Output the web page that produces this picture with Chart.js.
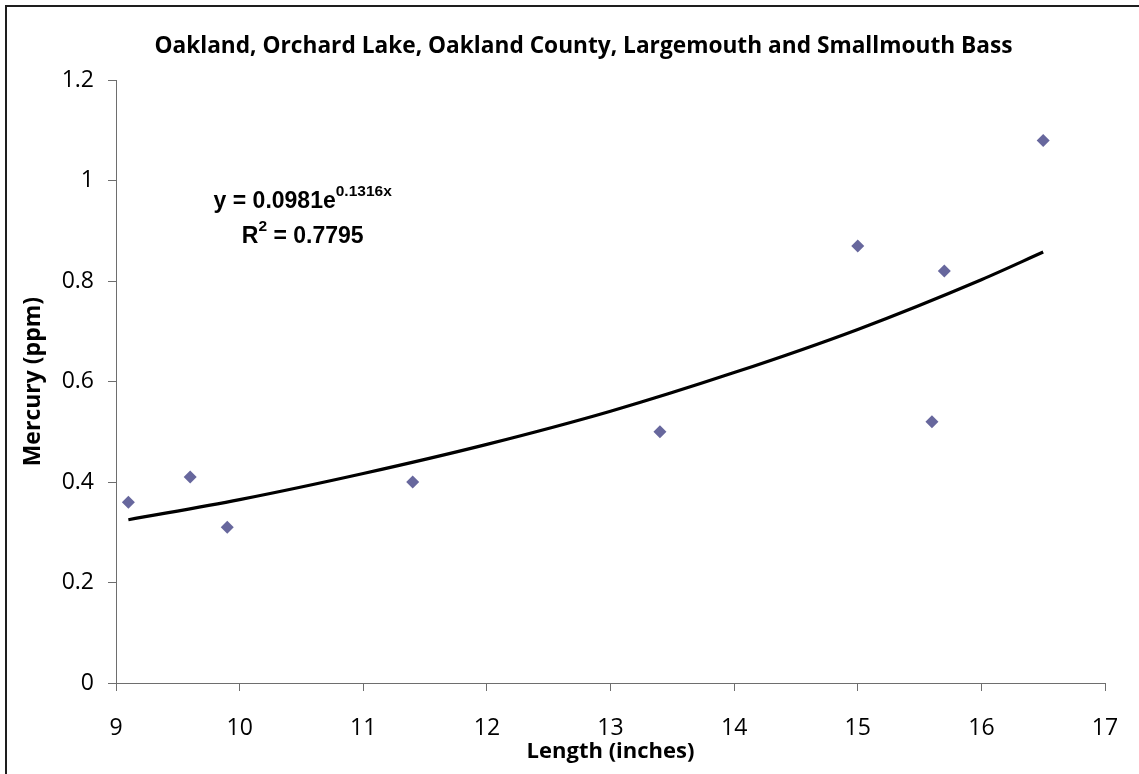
<!DOCTYPE html>
<html lang="en">
<head>
    <meta charset="UTF-8">
    <title>Orchard Lake Mercury vs Length</title>
    <script src="https://cdn.jsdelivr.net/npm/chart.js"></script>
    <style>
        body {
            margin: 0;
            background: #fff;
        }
        #chart-container {
            width: 1139px;
            height: 774px;
        }
    </style>
</head>
<body>
    <div id="chart-container">
        <canvas id="fishChart"></canvas>
    </div>

    <script>
    // Fish samples: length (inches) and mercury (ppm)
    const lengths = [9.1, 9.6, 9.9, 11.4, 13.4, 15.0, 15.6, 15.7, 16.5];
    const mercury = [0.36, 0.41, 0.31, 0.40, 0.50, 0.87, 0.52, 0.82, 1.08];

    // Exponential trendline
    const trendX = [9.1, 10, 11, 12, 13, 14, 15, 16, 16.5];
    const trendY = [0.325, 0.365, 0.417, 0.475, 0.541, 0.618, 0.704, 0.803, 0.858];

    const xTicks = [9, 10, 11, 12, 13, 14, 15, 16, 17];
    const yTicks = [0, 0.2, 0.4, 0.6, 0.8, 1, 1.2];

    const eqText = { base: 'y = 0.0981e', sup: '0.1316x' };
    const r2Text = { base: 'R', sup: '2', rest: ' = 0.7795' };
    const eqAnchor = { x: 10.51, y: 0.945 }; // in data units

    // the original chart is cropped on the right, so its title sits a bit right of centre
    const frame = {
        id: 'frame',
        afterLayout(chart) {
            const t = chart.titleBlock;
            t.left = 5;
            t.right = chart.width + 23;
            t.width = t.right - t.left;
        },
        afterDraw(chart) {
            const ctx = chart.ctx;
            ctx.save();
            ctx.strokeStyle = '#1e1e1e';
            ctx.lineWidth = 2;
            ctx.beginPath();
            ctx.moveTo(6, chart.height + 5);
            ctx.lineTo(6, 6);
            ctx.lineTo(chart.width + 5, 6);
            ctx.stroke();
            ctx.restore();
        }
    };

    const equation = {
        id: 'equation',
        afterDatasetsDraw(chart) {
            const ctx = chart.ctx;
            const xs = chart.scales.x, ys = chart.scales.y;
            const cx = xs.getPixelForValue(eqAnchor.x);
            const by = ys.getPixelForValue(eqAnchor.y);
            const big = 'bold 23px "Liberation Sans", Arial, sans-serif';
            const small = 'bold 15.5px "Liberation Sans", Arial, sans-serif';
            ctx.save();
            ctx.fillStyle = '#000';
            ctx.textBaseline = 'alphabetic';
            ctx.textAlign = 'left';

            ctx.font = big;
            const w1 = ctx.measureText(eqText.base).width;
            ctx.font = small;
            const w2 = ctx.measureText(eqText.sup).width;
            let x = cx - (w1 + w2) / 2;
            ctx.font = big;
            ctx.fillText(eqText.base, x, by);
            ctx.font = small;
            ctx.fillText(eqText.sup, x + w1, by - 12);

            const by2 = by + 35;
            ctx.font = big;
            const wa = ctx.measureText(r2Text.base).width;
            const wc = ctx.measureText(r2Text.rest).width;
            ctx.font = small;
            const wb = ctx.measureText(r2Text.sup).width;
            x = cx - (wa + wb + wc) / 2;
            ctx.font = big;
            ctx.fillText(r2Text.base, x, by2);
            ctx.font = small;
            ctx.fillText(r2Text.sup, x + wa, by2 - 12);
            ctx.font = big;
            ctx.fillText(r2Text.rest, x + wa + wb, by2);
            ctx.restore();
        }
    };

    const axisColor = '#6e6e6e';
    const tickFont = { family: '"Open Sans", sans-serif', size: 23 };

    new Chart(document.getElementById('fishChart').getContext('2d'), {
        type: 'scatter',
        data: {
            datasets: [{
                label: 'Trend',
                type: 'line',
                data: trendX.map((x, i) => ({ x: x, y: trendY[i] })),
                borderColor: '#000',
                borderWidth: 3.2,
                pointRadius: 0,
                cubicInterpolationMode: 'monotone',
                fill: false,
                order: 2
            }, {
                label: 'Samples',
                data: lengths.map((x, i) => ({ x: x, y: mercury[i] })),
                pointStyle: 'rectRot',
                pointRadius: 6.5,
                pointBackgroundColor: '#67679d',
                pointBorderColor: '#67679d',
                pointBorderWidth: 0,
                order: 1
            }]
        },
        options: {
            responsive: true,
            maintainAspectRatio: false,
            animation: false,
            layout: { padding: { left: 20, right: 34, top: 0, bottom: 9 } },
            scales: {
                x: {
                    type: 'linear',
                    min: 9,
                    max: 17,
                    afterBuildTicks: s => { s.ticks = xTicks.map(v => ({ value: v })); },
                    afterFit: s => { s.height = 82; s.paddingLeft = 0; s.paddingRight = 0; },
                    grid: { display: true, drawOnChartArea: false, tickLength: 8, color: axisColor },
                    border: { color: axisColor, width: 1 },
                    ticks: { color: '#000', font: tickFont, padding: 24, maxRotation: 0 },
                    title: {
                        display: true,
                        text: 'Length (inches)',
                        color: '#000',
                        font: { family: '"Open Sans", sans-serif', size: 22, weight: 'bold' },
                        padding: { top: 0, bottom: 0 }
                    }
                },
                y: {
                    min: 0,
                    max: 1.2,
                    afterBuildTicks: s => { s.ticks = yTicks.map(v => ({ value: v })); },
                    afterFit: s => { s.width = 96; },
                    grid: { display: true, drawOnChartArea: false, tickLength: 8, color: axisColor },
                    border: { color: axisColor, width: 1 },
                    ticks: {
                        color: '#000',
                        font: tickFont,
                        padding: 14,
                        callback: v => String(Math.round(v * 10) / 10)
                    },
                    title: {
                        display: true,
                        text: 'Mercury (ppm)',
                        color: '#000',
                        font: { family: '"Open Sans", sans-serif', size: 23, weight: 'bold' },
                        padding: { top: 0, bottom: 0 }
                    }
                }
            },
            plugins: {
                legend: { display: false },
                tooltip: { enabled: false },
                title: {
                    display: true,
                    text: 'Oakland, Orchard Lake, Oakland County, Largemouth and Smallmouth Bass',
                    color: '#000',
                    font: { family: '"Open Sans", sans-serif', size: 22.7, weight: 'bold' },
                    padding: { top: 32.5, bottom: 20.5 }
                }
            }
        },
        plugins: [frame, equation]
    });
    </script>
</body>
</html>
